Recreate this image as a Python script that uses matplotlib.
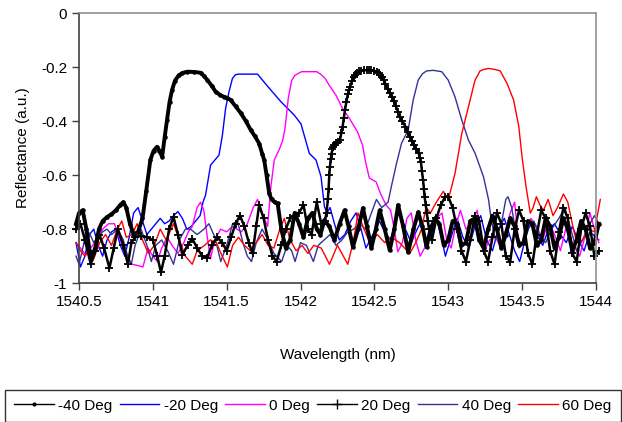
import numpy as np
import matplotlib
matplotlib.use("Agg")
import matplotlib.pyplot as plt
from matplotlib.lines import Line2D

plt.rcParams['font.family'] = ['Liberation Sans', 'DejaVu Sans']

# wavelength (nm) / reflectance (a.u.) for each grating temperature
wl_m40 = [1540.48, 1540.50, 1540.525, 1540.55, 1540.58, 1540.61, 1540.635, 1540.66, 1540.69, 1540.72,
          1540.75, 1540.78, 1540.80, 1540.82, 1540.845, 1540.87, 1540.90, 1540.93, 1540.955, 1540.983,
          1541.005, 1541.028, 1541.045, 1541.063, 1541.08, 1541.096, 1541.113, 1541.13, 1541.15, 1541.176,
          1541.2, 1541.233, 1541.28, 1541.323, 1541.345, 1541.369, 1541.4, 1541.425, 1541.455, 1541.482,
          1541.505, 1541.527, 1541.56, 1541.595, 1541.63, 1541.663, 1541.69, 1541.72, 1541.74, 1541.754,
          1541.77, 1541.788, 1541.804, 1541.825, 1541.845, 1541.87, 1541.90, 1541.93, 1541.96, 1541.99,
          1542.02, 1542.05, 1542.08, 1542.11, 1542.135, 1542.162, 1542.195, 1542.23, 1542.265, 1542.298,
          1542.325, 1542.355, 1542.39, 1542.423, 1542.45, 1542.48, 1542.51, 1542.536, 1542.57, 1542.604,
          1542.635, 1542.661, 1542.695, 1542.729, 1542.765, 1542.797, 1542.825, 1542.854, 1542.88, 1542.91,
          1542.94, 1542.97, 1543.00, 1543.03, 1543.06, 1543.09, 1543.12, 1543.15, 1543.18, 1543.21,
          1543.24, 1543.27, 1543.30, 1543.33, 1543.36, 1543.39, 1543.42, 1543.45, 1543.48, 1543.51,
          1543.54, 1543.57, 1543.60, 1543.63, 1543.66, 1543.69, 1543.72, 1543.75, 1543.78, 1543.81,
          1543.84, 1543.87, 1543.90, 1543.93, 1543.96, 1543.99, 1544.02]
r_m40 = [-0.78, -0.74, -0.73, -0.80, -0.91, -0.87, -0.80, -0.77, -0.755, -0.745,
         -0.73, -0.71, -0.70, -0.72, -0.78, -0.82, -0.81, -0.76, -0.66, -0.544,
         -0.51, -0.495, -0.51, -0.532, -0.46, -0.396, -0.33, -0.285, -0.25, -0.23,
         -0.222, -0.217, -0.218, -0.221, -0.232, -0.248, -0.27, -0.291, -0.303, -0.31,
         -0.314, -0.322, -0.345, -0.37, -0.40, -0.433, -0.455, -0.483, -0.52, -0.544,
         -0.60, -0.668, -0.69, -0.70, -0.705, -0.80, -0.87, -0.84, -0.74, -0.78,
         -0.83, -0.76, -0.74, -0.80, -0.82, -0.767, -0.79, -0.84, -0.78, -0.73,
         -0.79, -0.866, -0.80, -0.722, -0.79, -0.87, -0.80, -0.73, -0.80, -0.878,
         -0.80, -0.711, -0.79, -0.885, -0.80, -0.737, -0.79, -0.866, -0.80, -0.76,
         -0.78, -0.86, -0.84, -0.77, -0.78, -0.86, -0.85, -0.77, -0.76, -0.84,
         -0.87, -0.80, -0.75, -0.80, -0.87, -0.82, -0.76, -0.79, -0.86, -0.85,
         -0.77, -0.78, -0.86, -0.84, -0.76, -0.79, -0.87, -0.83, -0.76, -0.80,
         -0.88, -0.84, -0.77, -0.80, -0.87, -0.85, -0.78]

wl_m20 = [1540.48, 1540.51, 1540.54, 1540.57, 1540.60, 1540.63, 1540.66, 1540.69, 1540.72, 1540.75,
          1540.78, 1540.81, 1540.84, 1540.87, 1540.90, 1540.93, 1540.96, 1540.99, 1541.02, 1541.05,
          1541.08, 1541.11, 1541.14, 1541.17, 1541.20, 1541.23, 1541.26, 1541.29, 1541.32, 1541.34,
          1541.357, 1541.391, 1541.448, 1541.471, 1541.493, 1541.516, 1541.539, 1541.56, 1541.584, 1541.709,
          1541.76, 1541.799, 1541.867, 1541.958, 1542.003, 1542.06, 1542.105, 1542.139, 1542.162, 1542.18,
          1542.20, 1542.23, 1542.262, 1542.30, 1542.34, 1542.376, 1542.41, 1542.443, 1542.49, 1542.534,
          1542.57, 1542.61, 1542.64, 1542.67, 1542.71, 1542.75, 1542.79, 1542.82, 1542.845, 1542.88,
          1542.92, 1542.95, 1542.981, 1543.02, 1543.06, 1543.10, 1543.14, 1543.18, 1543.22, 1543.26,
          1543.30, 1543.34, 1543.38, 1543.42, 1543.45, 1543.484, 1543.52, 1543.56, 1543.60, 1543.64,
          1543.68, 1543.72, 1543.76, 1543.80, 1543.84, 1543.88, 1543.92, 1543.96, 1544.02]
r_m20 = [-0.85, -0.94, -0.90, -0.82, -0.80, -0.86, -0.90, -0.84, -0.81, -0.80,
         -0.86, -0.90, -0.83, -0.74, -0.72, -0.77, -0.82, -0.80, -0.78, -0.76,
         -0.78, -0.77, -0.75, -0.735, -0.76, -0.80, -0.79, -0.77, -0.75, -0.70,
         -0.674, -0.563, -0.526, -0.452, -0.352, -0.291, -0.242, -0.228, -0.226, -0.226,
         -0.26, -0.285, -0.328, -0.378, -0.41, -0.52, -0.544, -0.606, -0.717, -0.74,
         -0.72, -0.78, -0.84, -0.82, -0.77, -0.74, -0.80, -0.87, -0.82, -0.77,
         -0.81, -0.84, -0.78, -0.73, -0.80, -0.85, -0.80, -0.77, -0.87, -0.83,
         -0.76, -0.82, -0.90, -0.83, -0.76, -0.83, -0.87, -0.79, -0.75, -0.84,
         -0.88, -0.80, -0.76, -0.83, -0.88, -0.92, -0.84, -0.77, -0.82, -0.86,
         -0.80, -0.78, -0.82, -0.85, -0.79, -0.84, -0.88, -0.81, -0.84]

wl_0 = [1540.48, 1540.51, 1540.548, 1540.58, 1540.62, 1540.66, 1540.70, 1540.74, 1540.78, 1540.82,
        1540.86, 1540.90, 1540.933, 1540.967, 1541.00, 1541.03, 1541.06, 1541.097, 1541.13, 1541.17,
        1541.21, 1541.24, 1541.267, 1541.30, 1541.323, 1541.345, 1541.369, 1541.39, 1541.42, 1541.459,
        1541.50, 1541.539, 1541.57, 1541.60, 1541.64, 1541.68, 1541.709, 1541.74, 1541.777, 1541.80,
        1541.822, 1541.838, 1541.86, 1541.88, 1541.895, 1541.917, 1541.94, 1541.963, 1542.008, 1542.11,
        1542.14, 1542.167, 1542.194, 1542.24, 1542.284, 1542.33, 1542.386, 1542.42, 1542.44, 1542.466,
        1542.512, 1542.546, 1542.58, 1542.61, 1542.635, 1542.659, 1542.69, 1542.72, 1542.75, 1542.78,
        1542.81, 1542.85, 1542.88, 1542.92, 1542.958, 1542.99, 1543.02, 1543.05, 1543.083, 1543.12,
        1543.16, 1543.196, 1543.24, 1543.27, 1543.31, 1543.35, 1543.39, 1543.42, 1543.45, 1543.48,
        1543.52, 1543.56, 1543.60, 1543.64, 1543.68, 1543.72, 1543.76, 1543.80, 1543.84, 1543.89,
        1543.93, 1543.96, 1543.99, 1544.02]
r_0 = [-0.85, -0.87, -0.896, -0.87, -0.84, -0.80, -0.78, -0.78, -0.84, -0.90,
       -0.93, -0.935, -0.94, -0.87, -0.90, -0.92, -0.87, -0.83, -0.86, -0.89,
       -0.85, -0.81, -0.79, -0.72, -0.70, -0.73, -0.83, -0.91, -0.84, -0.80,
       -0.81, -0.79, -0.80, -0.81, -0.78, -0.72, -0.69, -0.74, -0.79, -0.64,
       -0.544, -0.526, -0.50, -0.47, -0.427, -0.316, -0.25, -0.23, -0.217, -0.217,
       -0.228, -0.242, -0.267, -0.304, -0.353, -0.389, -0.44, -0.489, -0.55, -0.611,
       -0.625, -0.674, -0.711, -0.73, -0.80, -0.884, -0.85, -0.76, -0.74, -0.84,
       -0.90, -0.86, -0.80, -0.76, -0.74, -0.84, -0.87, -0.79, -0.73, -0.80,
       -0.78, -0.73, -0.89, -0.85, -0.82, -0.86, -0.80, -0.74, -0.70, -0.87,
       -0.83, -0.76, -0.79, -0.84, -0.77, -0.82, -0.88, -0.79, -0.85, -0.90,
       -0.82, -0.74, -0.80, -0.85]

wl_20 = [1540.48, 1540.51, 1540.54, 1540.58, 1540.61, 1540.638, 1540.67, 1540.706, 1540.735, 1540.763,
         1540.80, 1540.831, 1540.855, 1540.88, 1540.92, 1540.96, 1541.00, 1541.03, 1541.055, 1541.08,
         1541.11, 1541.14, 1541.17, 1541.20, 1541.235, 1541.267, 1541.30, 1541.335, 1541.369, 1541.40,
         1541.435, 1541.47, 1541.50, 1541.53, 1541.56, 1541.59, 1541.62, 1541.65, 1541.675, 1541.70,
         1541.72, 1541.75, 1541.78, 1541.81, 1541.838, 1541.87, 1541.90, 1541.93, 1541.96, 1541.99,
         1542.02, 1542.05, 1542.075, 1542.11, 1542.14, 1542.165,
         1542.176, 1542.185, 1542.19, 1542.195, 1542.199, 1542.205, 1542.21, 1542.216, 1542.222, 1542.23,
         1542.24, 1542.253, 1542.267, 1542.276, 1542.285, 1542.293, 1542.301, 1542.31, 1542.32, 1542.328,
         1542.335, 1542.348, 1542.36, 1542.37, 1542.381, 1542.395, 1542.41, 1542.43, 1542.449, 1542.465,
         1542.48, 1542.50, 1542.517, 1542.53, 1542.54, 1542.55, 1542.562, 1542.575, 1542.59, 1542.605,
         1542.619, 1542.632, 1542.645, 1542.66, 1542.675, 1542.69, 1542.71, 1542.725, 1542.743, 1542.757,
         1542.77, 1542.785, 1542.80, 1542.808, 1542.815, 1542.822, 1542.83, 1542.835, 1542.84, 1542.848,
         1542.855, 1542.862, 1542.87, 1542.89, 1542.92,
         1542.95, 1542.98, 1543.00, 1543.03, 1543.06, 1543.09, 1543.12, 1543.15, 1543.18, 1543.21,
         1543.24, 1543.27, 1543.30, 1543.33, 1543.36, 1543.39, 1543.42, 1543.45, 1543.48, 1543.51,
         1543.54, 1543.57, 1543.60, 1543.63, 1543.66, 1543.69, 1543.72, 1543.75, 1543.78, 1543.81,
         1543.84, 1543.87, 1543.90, 1543.93, 1543.96, 1543.99, 1544.02]
r_20 = [-0.80, -0.78, -0.84, -0.93, -0.88, -0.82, -0.87, -0.944, -0.87, -0.80,
        -0.86, -0.93, -0.85, -0.83, -0.825, -0.83, -0.84, -0.90, -0.96, -0.90,
        -0.80, -0.755, -0.82, -0.895, -0.86, -0.835, -0.87, -0.90, -0.905, -0.86,
        -0.83, -0.85, -0.88, -0.83, -0.78, -0.75, -0.79, -0.85, -0.89, -0.79,
        -0.71, -0.76, -0.84, -0.90, -0.92, -0.86, -0.80, -0.76, -0.75, -0.74,
        -0.71, -0.80, -0.82, -0.70, -0.78, -0.77,
        -0.74, -0.69, -0.65, -0.60, -0.569, -0.54, -0.52, -0.505, -0.495, -0.488,
        -0.48, -0.476, -0.47, -0.445, -0.42, -0.39, -0.359, -0.33, -0.30, -0.285,
        -0.273, -0.252, -0.235, -0.228, -0.222, -0.216, -0.213, -0.212, -0.211, -0.211,
        -0.212, -0.214, -0.217, -0.222, -0.23, -0.238, -0.248, -0.262, -0.28, -0.295,
        -0.31, -0.327, -0.345, -0.365, -0.384, -0.40, -0.42, -0.44, -0.458, -0.475,
        -0.49, -0.505, -0.519, -0.535, -0.55, -0.585, -0.618, -0.65, -0.68, -0.71,
        -0.741, -0.77, -0.80, -0.84, -0.76,
        -0.71, -0.68, -0.68, -0.72, -0.80, -0.88, -0.92, -0.84, -0.75, -0.77,
        -0.88, -0.92, -0.83, -0.74, -0.78, -0.90, -0.92, -0.80, -0.73, -0.77,
        -0.89, -0.93, -0.82, -0.73, -0.76, -0.88, -0.93, -0.81, -0.72, -0.76,
        -0.89, -0.92, -0.80, -0.74, -0.79, -0.90, -0.88]

wl_40 = [1540.48, 1540.50, 1540.53, 1540.548, 1540.575, 1540.60, 1540.63, 1540.66, 1540.69, 1540.72,
         1540.763, 1540.80, 1540.83, 1540.854, 1540.88, 1540.92, 1540.96, 1540.99, 1541.02, 1541.06,
         1541.10, 1541.14, 1541.18, 1541.22, 1541.255, 1541.30, 1541.346, 1541.38, 1541.42, 1541.46,
         1541.50, 1541.54, 1541.573, 1541.61, 1541.64, 1541.668, 1541.70, 1541.74, 1541.78, 1541.82,
         1541.872, 1541.91, 1541.94, 1541.963, 1542.00, 1542.04, 1542.087, 1542.12, 1542.16, 1542.20,
         1542.24, 1542.28, 1542.32, 1542.36, 1542.40, 1542.44, 1542.48, 1542.514, 1542.55, 1542.593,
         1542.62, 1542.65, 1542.684, 1542.729, 1542.763, 1542.797, 1542.825, 1542.854, 1542.90, 1542.956,
         1543.00, 1543.046, 1543.092, 1543.137, 1543.182, 1543.239, 1543.273, 1543.29, 1543.32, 1543.36,
         1543.39, 1543.405, 1543.43, 1543.46, 1543.50, 1543.54, 1543.58, 1543.62, 1543.66, 1543.70,
         1543.75, 1543.79, 1543.83, 1543.87, 1543.91, 1543.95, 1543.99, 1544.02]
r_40 = [-0.90, -0.93, -0.86, -0.80, -0.82, -0.85, -0.83, -0.81, -0.80, -0.82,
        -0.80, -0.84, -0.90, -0.93, -0.86, -0.80, -0.86, -0.92, -0.86, -0.84,
        -0.88, -0.93, -0.84, -0.80, -0.80, -0.82, -0.80, -0.78, -0.83, -0.92,
        -0.86, -0.78, -0.77, -0.85, -0.90, -0.92, -0.85, -0.80, -0.84, -0.89,
        -0.92, -0.86, -0.88, -0.92, -0.85, -0.86, -0.92, -0.86, -0.84, -0.82,
        -0.86, -0.84, -0.81, -0.80, -0.78, -0.80, -0.74, -0.69, -0.72, -0.70,
        -0.63, -0.557, -0.482, -0.433, -0.322, -0.248, -0.225, -0.214, -0.212, -0.217,
        -0.248, -0.31, -0.396, -0.47, -0.519, -0.606, -0.69, -0.76, -0.84, -0.78,
        -0.69, -0.68, -0.72, -0.82, -0.86, -0.80, -0.77, -0.83, -0.85, -0.80,
        -0.76, -0.72, -0.80, -0.88, -0.84, -0.79, -0.75, -0.78]

wl_60 = [1540.48, 1540.51, 1540.54, 1540.57, 1540.60, 1540.64, 1540.68, 1540.72, 1540.76, 1540.79,
         1540.82, 1540.86, 1540.893, 1540.93, 1540.97, 1541.01, 1541.05, 1541.09, 1541.14, 1541.18,
         1541.22, 1541.267, 1541.30, 1541.35, 1541.39, 1541.43, 1541.47, 1541.505, 1541.54, 1541.58,
         1541.62, 1541.66, 1541.70, 1541.74, 1541.78, 1541.82, 1541.86, 1541.89, 1541.93, 1541.97,
         1542.01, 1542.05, 1542.09, 1542.14, 1542.196, 1542.25, 1542.32, 1542.36, 1542.389, 1542.43,
         1542.47, 1542.52, 1542.57, 1542.615, 1542.67, 1542.74, 1542.78, 1542.82, 1542.85, 1542.88,
         1542.92, 1542.967, 1543.00, 1543.02, 1543.046, 1543.092, 1543.137, 1543.182, 1543.216, 1543.245,
         1543.273, 1543.31, 1543.352, 1543.398, 1543.443, 1543.478, 1543.50, 1543.527, 1543.556, 1543.575,
         1543.597, 1543.62, 1543.645, 1543.677, 1543.71, 1543.74, 1543.78, 1543.81, 1543.84, 1543.87,
         1543.91, 1543.95, 1543.99, 1544.03]
r_60 = [-0.85, -0.88, -0.90, -0.87, -0.91, -0.85, -0.82, -0.86, -0.80, -0.77,
        -0.83, -0.82, -0.78, -0.84, -0.89, -0.86, -0.80, -0.84, -0.78, -0.84,
        -0.90, -0.93, -0.88, -0.86, -0.84, -0.85, -0.90, -0.94, -0.86, -0.83,
        -0.86, -0.88, -0.85, -0.82, -0.86, -0.87, -0.80, -0.76, -0.84, -0.88,
        -0.86, -0.89, -0.86, -0.87, -0.93, -0.86, -0.93, -0.84, -0.74, -0.80,
        -0.85, -0.82, -0.85, -0.83, -0.85, -0.89, -0.85, -0.80, -0.72, -0.74,
        -0.70, -0.66, -0.69, -0.65, -0.594, -0.446, -0.347, -0.248, -0.214, -0.208,
        -0.205, -0.208, -0.214, -0.26, -0.322, -0.42, -0.532, -0.643, -0.741, -0.72,
        -0.68, -0.71, -0.73, -0.69, -0.75, -0.72, -0.67, -0.70, -0.78, -0.85,
        -0.84, -0.80, -0.81, -0.69]

labels = ["-40 Deg", "-20 Deg", "0 Deg", "20 Deg", "40 Deg", "60 Deg"]
xticks = [1540.5, 1541, 1541.5, 1542, 1542.5, 1543, 1543.5, 1544]
yticks = [0, -0.2, -0.4, -0.6, -0.8, -1]

fig = plt.figure(figsize=(6.22, 4.22), dpi=100)
ax = fig.add_axes([0.127, 0.329, 0.831, 0.640])

ax.plot(wl_m20, r_m20, color="#0000FF", lw=1.0, clip_on=False)
ax.plot(wl_0, r_0, color="#FF00FF", lw=1.0, clip_on=False)
ax.plot(wl_40, r_40, color="#333399", lw=1.0, clip_on=False)
ax.plot(wl_60, r_60, color="#FF0000", lw=1.0, clip_on=False)
ax.plot(wl_20, r_20, color="black", lw=1.8, marker="+", ms=6, mew=1.3, clip_on=False)
ax.plot(wl_m40, r_m40, color="black", lw=2.8, marker=".", ms=4.5, clip_on=False)

ax.set_xlim(1540.5, 1544)
ax.set_ylim(-1, 0)
ax.set_xticks(xticks)
ax.set_xticklabels([("%g" % t) for t in xticks])
ax.set_yticks(yticks)
ax.set_yticklabels([("%g" % t) for t in yticks])
ax.tick_params(direction="out", length=5, width=1, labelsize=11, color="#404040")

for s in ["left", "bottom"]:
    ax.spines[s].set_color("#404040")
    ax.spines[s].set_linewidth(1.2)
for s in ["top", "right"]:
    ax.spines[s].set_color("#909090")
    ax.spines[s].set_linewidth(1.2)

ax.set_xlabel("Wavelength (nm)", fontsize=11, labelpad=28)
ax.set_ylabel("Reflectance (a.u.)", fontsize=11, labelpad=8)

handles = [
    Line2D([], [], color="black", lw=1, marker=".", ms=4),
    Line2D([], [], color="#0000FF", lw=1),
    Line2D([], [], color="#FF00FF", lw=1),
    Line2D([], [], color="black", lw=1, marker="+", ms=7, mew=1),
    Line2D([], [], color="#333399", lw=1),
    Line2D([], [], color="#FF0000", lw=1),
]
leg = fig.legend(handles, labels, loc="lower left", ncol=6, mode="expand",
                 bbox_to_anchor=(0.008, 0.0, 0.990, 0.09), fontsize=11,
                 frameon=True, fancybox=False, edgecolor="black", borderaxespad=0,
                 handlelength=2.6, handletextpad=0.3, columnspacing=0.8, borderpad=0.6)
leg.get_frame().set_linewidth(1.0)

fig.savefig("out.png", dpi=100)
